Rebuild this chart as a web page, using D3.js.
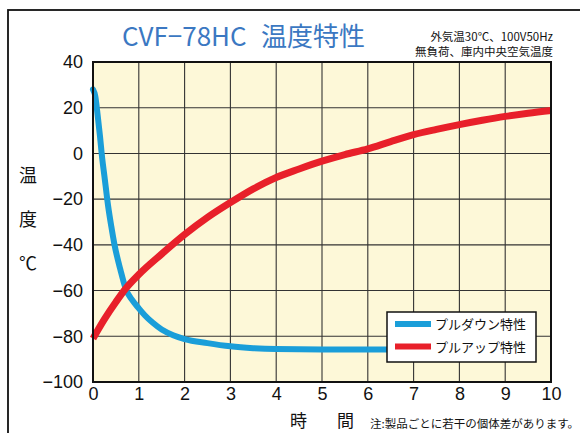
<!DOCTYPE html>
<html>
<head>
<meta charset="utf-8">
<script src="https://cdn.jsdelivr.net/npm/d3@7"></script>
<style>
  body { margin: 0; background: #fff; }
  svg { display: block; }
</style>
</head>
<body>
<svg id="canvas" width="580" height="433"></svg>
<script>
// pull-down (blue) and pull-up (red) curves, hours vs deg C
const pullDownT = [0, 0.05, 0.1, 0.15, 0.2, 0.25, 0.33, 0.4, 0.47, 0.6, 0.72, 0.85, 1, 1.13, 1.3, 1.5, 1.75, 2, 2.5, 3, 3.5, 4, 5, 6, 7]
const pullDownV = [28, 25, 17, 8, -2, -10, -23, -32, -40, -51, -59.5, -64, -67.8, -70.8, -74, -77, -79.5, -81.2, -83, -84.4, -85.2, -85.6, -85.8, -85.8, -85.8]
const pullUpT = [0, 0.25, 0.5, 0.72, 1, 1.5, 2, 2.5, 3, 3.5, 4, 4.5, 5, 5.5, 6, 6.5, 7, 7.5, 8, 8.5, 9, 9.5, 10]
const pullUpV = [-81, -72.5, -65, -59, -53, -44, -35.5, -28, -21.5, -15.5, -10.5, -6.8, -3.4, -0.5, 2, 5.2, 8.2, 10.5, 12.6, 14.5, 16.2, 17.6, 18.8]
const xTicks = [0, 1, 2, 3, 4, 5, 6, 7, 8, 9, 10]
const yTicks = [40, 20, 0, -20, -40, -60, -80, -100]
const legendNames = ["プルダウン特性", "プルアップ特性"]
const lineColors = ["#1a9ed9", "#e8202a"]

const jp = "'Noto Sans CJK JP', 'Noto Sans', sans-serif"
const num = "'Liberation Sans', Arial, sans-serif"

let canvas = d3.select("#canvas")

const plotLeft = 93, plotTop = 62, w = 458, h = 320

let x = d3.scaleLinear().domain([0, 10]).range([plotLeft, plotLeft + w])
let y = d3.scaleLinear().domain([-100, 40]).range([plotTop + h, plotTop])

// outer frame (cut by the page edge on right and bottom)
canvas.append("rect")
      .attr("x", 8).attr("y", 10)
      .attr("width", 600).attr("height", 450)
      .attr("fill", "none")
      .attr("stroke", "#111")
      .attr("stroke-width", 1.8)

canvas.append("rect")
      .attr("x", plotLeft).attr("y", plotTop)
      .attr("width", w).attr("height", h)
      .attr("fill", "#fdf8d8")

// grid
canvas.append("g")
      .selectAll("line")
      .data(xTicks.slice(1, -1))
      .enter()
      .append("line")
      .attr("x1", d => x(d)).attr("x2", d => x(d))
      .attr("y1", plotTop).attr("y2", plotTop + h)
      .attr("stroke", "#333").attr("stroke-width", 1.1)

canvas.append("g")
      .selectAll("line")
      .data(yTicks.slice(1, -1))
      .enter()
      .append("line")
      .attr("x1", plotLeft).attr("x2", plotLeft + w)
      .attr("y1", d => y(d)).attr("y2", d => y(d))
      .attr("stroke", "#333").attr("stroke-width", 1.1)

// axes (labels only, frame drawn separately)
let xAxis = d3.axisBottom(x).tickValues(xTicks).tickSize(0).tickPadding(5)
let yAxis = d3.axisLeft(y).tickValues(yTicks).tickSize(0).tickPadding(10)

let gx = canvas.append("g").attr("transform", "translate(0," + (plotTop + h) + ")").call(xAxis)
let gy = canvas.append("g").attr("transform", "translate(" + plotLeft + ",0)").call(yAxis)
gx.select(".domain").remove()
gy.select(".domain").remove()
gx.selectAll("text").attr("font-family", num).attr("font-size", 18).attr("fill", "#111")
gy.selectAll("text").attr("font-family", num).attr("font-size", 18).attr("fill", "#111")

// curves
let line = d3.line().curve(d3.curveMonotoneX).x(d => x(d[0])).y(d => y(d[1]))

canvas.append("path")
      .attr("d", line(pullDownT.map((t, i) => [t, pullDownV[i]])))
      .attr("fill", "none")
      .attr("stroke", lineColors[0])
      .attr("stroke-width", 6)
      .attr("stroke-linecap", "round")

canvas.append("path")
      .attr("d", line(pullUpT.map((t, i) => [t, pullUpV[i]])))
      .attr("fill", "none")
      .attr("stroke", lineColors[1])
      .attr("stroke-width", 7)
      .attr("stroke-linecap", "butt")

// plot border
canvas.append("rect")
      .attr("x", plotLeft).attr("y", plotTop)
      .attr("width", w).attr("height", h)
      .attr("fill", "none")
      .attr("stroke", "#111")
      .attr("stroke-width", 2)

// legend
let legend = canvas.append("g")
legend.append("rect")
      .attr("x", 387).attr("y", 312)
      .attr("width", 149).attr("height", 50)
      .attr("fill", "#fff")
      .attr("stroke", "#111")
      .attr("stroke-width", 1.5)

const g = legend.selectAll("g.item")
                .data(legendNames)
                .enter()
                .append("g")
                .attr("class", "item")

g.append("line")
 .attr("x1", 395).attr("x2", 431)
 .attr("y1", (d, i) => 324 + i * 22.5)
 .attr("y2", (d, i) => 324 + i * 22.5)
 .attr("stroke", (d, i) => lineColors[i])
 .attr("stroke-width", 6)

g.append("text")
 .attr("x", 435)
 .attr("y", (d, i) => 329 + i * 22.5)
 .attr("font-family", jp)
 .attr("font-size", 13)
 .attr("fill", "#111")
 .text(d => d)

// titles and notes
canvas.append("text")
      .attr("x", 122).attr("y", 46)
      .attr("font-family", jp)
      .attr("font-size", 26)
      .attr("fill", "#3b78c2")
      .text("CVF−78HC")

canvas.append("text")
      .attr("x", 261).attr("y", 46)
      .attr("font-family", jp)
      .attr("font-size", 26)
      .attr("fill", "#3b78c2")
      .text("温度特性")

canvas.append("text")
      .attr("x", 553).attr("y", 41)
      .attr("text-anchor", "end")
      .attr("font-family", jp)
      .attr("font-size", 11.5)
      .attr("fill", "#111")
      .text("外気温30℃、100V50Hz")

canvas.append("text")
      .attr("x", 553).attr("y", 56)
      .attr("text-anchor", "end")
      .attr("font-family", jp)
      .attr("font-size", 11.5)
      .attr("fill", "#111")
      .text("無負荷、庫内中央空気温度")

const yLabel = ["温", "度", "℃"]
canvas.append("g")
      .selectAll("text")
      .data(yLabel)
      .enter()
      .append("text")
      .attr("x", 28)
      .attr("y", (d, i) => 182 + i * 44)
      .attr("text-anchor", "middle")
      .attr("font-family", jp)
      .attr("font-size", 18)
      .attr("fill", "#111")
      .text(d => d)

canvas.append("text")
      .attr("x", 290).attr("y", 427)
      .attr("font-family", jp)
      .attr("font-size", 17)
      .attr("fill", "#111")
      .text("時")

canvas.append("text")
      .attr("x", 337).attr("y", 427)
      .attr("font-family", jp)
      .attr("font-size", 17)
      .attr("fill", "#111")
      .text("間")

canvas.append("text")
      .attr("x", 579).attr("y", 428)
      .attr("text-anchor", "end")
      .attr("font-family", jp)
      .attr("font-size", 11.5)
      .attr("fill", "#111")
      .text("注:製品ごとに若干の個体差があります。")
</script>
</body>
</html>
